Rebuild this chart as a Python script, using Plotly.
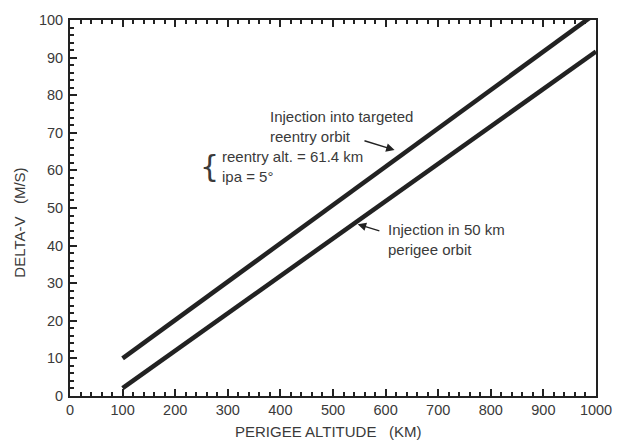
import plotly.graph_objects as go

# Data
altitude = [100, 1000]                 # perigee altitude (km)
dv_targeted = [10.0, 101.8]           # injection into targeted reentry orbit (m/s)
dv_50km = [2.1, 91.6]                 # injection in 50 km perigee orbit (m/s)

x_ticks = [0, 100, 200, 300, 400, 500, 600, 700, 800, 900, 1000]
y_ticks = [0, 10, 20, 30, 40, 50, 60, 70, 80, 90, 100]

FONT = "Liberation Sans, Arial, Helvetica, sans-serif"
INK = "#222222"
TXT = "#3a3a3a"

fig = go.Figure()
fig.add_trace(go.Scatter(x=altitude, y=dv_targeted, mode="lines",
                         line=dict(color=INK, width=4.5), showlegend=False))
fig.add_trace(go.Scatter(x=altitude, y=dv_50km, mode="lines",
                         line=dict(color=INK, width=4.5), showlegend=False))

axis_common = dict(
    showgrid=False, zeroline=False, showline=True, linecolor=INK, linewidth=2,
    ticks="inside", ticklen=7, tickwidth=2, tickcolor=INK,
    tickfont=dict(family=FONT, size=14.5, color=TXT),
)

fig.update_xaxes(range=[0, 1000], tickvals=x_ticks, mirror="ticks",
                 minor=dict(tickmode="linear", tick0=0, dtick=20, ticks="inside",
                            ticklen=4, tickcolor=INK, tickwidth=1.5, showgrid=False),
                 **axis_common)
fig.update_yaxes(range=[0, 100], tickvals=y_ticks, mirror=True, ticklabelstandoff=2,
                 minor=dict(tickmode="linear", tick0=0, dtick=2, ticks="inside",
                            ticklen=4, tickcolor=INK, tickwidth=1.5, showgrid=False),
                 **axis_common)

ann_font = dict(family=FONT, size=15, color=TXT)
title_font = dict(family=FONT, size=15, color=TXT)
annotations = [
    dict(x=0.4906, y=-0.0945, xref="paper", yref="paper",
         text="PERIGEE ALTITUDE\u00a0\u00a0\u00a0(KM)", showarrow=False,
         xanchor="center", yanchor="middle", font=title_font),
    dict(x=-0.0962, y=0.462, xref="paper", yref="paper",
         text="DELTA-V\u00a0\u00a0\u00a0(M/S)", showarrow=False, textangle=-90,
         xanchor="center", yanchor="middle", font=title_font),
    dict(x=377, y=71.7, text="Injection into targeted<br>reentry orbit", showarrow=False,
         xanchor="left", yanchor="middle", align="left", font=ann_font),
    dict(x=617, y=65.4, ax=557, ay=68.0, axref="x", ayref="y", text="", showarrow=True,
         arrowhead=2, arrowsize=1.2, arrowwidth=1.4, arrowcolor=INK),
    dict(x=600, y=41.6, text="Injection in 50 km<br>perigee orbit", showarrow=False,
         xanchor="left", yanchor="middle", align="left", font=ann_font),
    dict(x=547, y=45.7, ax=591, ay=43.8, axref="x", ayref="y", text="", showarrow=True,
         arrowhead=2, arrowsize=1.2, arrowwidth=1.4, arrowcolor=INK),
    dict(x=266, y=61.0, text="{", showarrow=False, xanchor="center", yanchor="middle",
         font=dict(family="DejaVu Sans", size=30, color=TXT)),
    dict(x=286, y=61.0, text="reentry alt. = 61.4 km<br>ipa = 5°", showarrow=False,
         xanchor="left", yanchor="middle", align="left", font=ann_font),
]

fig.update_layout(
    width=624, height=448,
    margin=dict(l=70, r=24, t=15, b=52),
    paper_bgcolor="white", plot_bgcolor="white",
    font=dict(family=FONT, size=14, color=TXT),
    annotations=annotations,
)

fig.write_html("out.html")
